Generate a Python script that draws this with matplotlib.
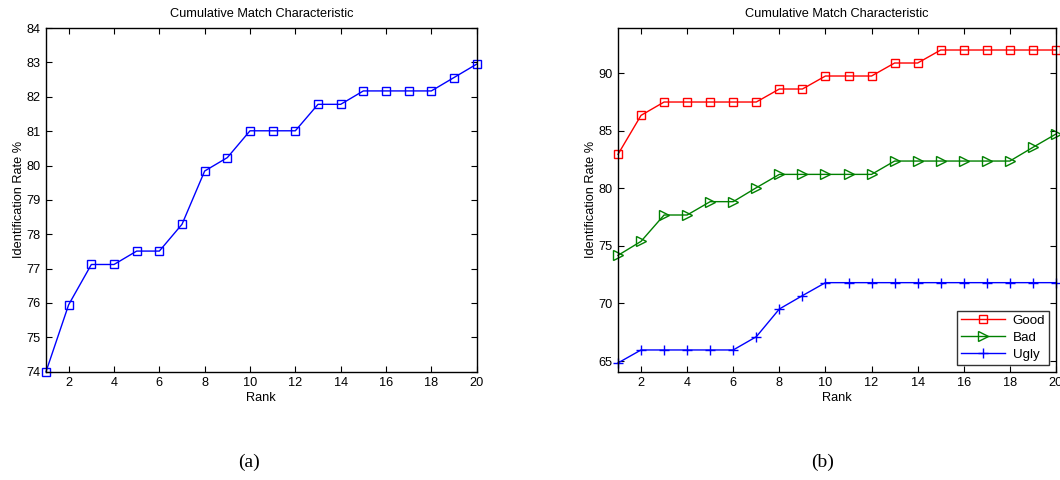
import numpy as np
import matplotlib
matplotlib.use('Agg')
import matplotlib.pyplot as plt

plt.rcParams['font.family'] = ['Liberation Sans', 'DejaVu Sans']

# Data
rank = np.arange(1, 21)
cmc_a = [74.0, 75.95, 77.12, 77.12, 77.51, 77.51, 78.29, 79.84, 80.23, 81.01,
         81.01, 81.01, 81.78, 81.78, 82.17, 82.17, 82.17, 82.17, 82.56, 82.95]
good = [82.96, 86.35, 87.51, 87.51, 87.51, 87.51, 87.51, 88.64, 88.64, 89.77,
        89.77, 89.77, 90.9, 90.9, 92.03, 92.03, 92.03, 92.03, 92.03, 92.03]
bad = [74.18, 75.4, 77.69, 77.69, 78.85, 78.85, 80.06, 81.22, 81.22, 81.22,
       81.22, 81.22, 82.38, 82.38, 82.38, 82.38, 82.38, 82.38, 83.57, 84.73]
ugly = [64.83, 65.96, 65.96, 65.96, 65.96, 65.96, 67.11, 69.52, 70.68, 71.81,
        71.81, 71.81, 71.81, 71.81, 71.81, 71.81, 71.81, 71.81, 71.81, 71.81]
xticks = np.arange(2, 21, 2)

fs = 9.2
fig = plt.figure(figsize=(10.6, 4.8), dpi=100)
ax1 = fig.add_axes([0.0434, 0.2256, 0.4063, 0.716])
ax2 = fig.add_axes([0.583, 0.2256, 0.4132, 0.716])

ax1.plot(rank, cmc_a, color='b', lw=1, marker='s', ms=6, mfc='none', mew=1,
         clip_on=False)
ax1.set_ylim(74, 84)
ax1.set_yticks(np.arange(74, 85, 1))

ax2.plot(rank, good, color='r', lw=1, marker='s', ms=6, mfc='none', mew=1,
         label='Good', clip_on=False)
ax2.plot(rank, bad, color='g', lw=1, marker='>', ms=7, mfc='none', mew=1,
         label='Bad', clip_on=False)
ax2.plot(rank, ugly, color='b', lw=1, marker='+', ms=7, mew=1,
         label='Ugly', clip_on=False)
ax2.set_ylim(64.07, 93.94)
ax2.set_yticks([65, 70, 75, 80, 85, 90])
leg = ax2.legend(loc='lower right', fontsize=9.6, frameon=True, fancybox=False,
                 edgecolor='k', borderpad=0.3, handlelength=3.3,
                 labelspacing=0.35, borderaxespad=0.5, handletextpad=0.6)
leg.get_frame().set_linewidth(1)

for ax in (ax1, ax2):
    ax.set_xlim(1, 20)
    ax.set_xticks(xticks)
    ax.tick_params(direction='in', top=True, right=True, labelsize=fs,
                   length=4, width=0.8, pad=4)
    for s in ax.spines.values():
        s.set_linewidth(1)
    ax.set_title('Cumulative Match Characteristic', fontsize=fs, pad=8)
    ax.set_xlabel('Rank', fontsize=fs, labelpad=2)
    ax.set_ylabel('Identification Rate %', fontsize=fs, labelpad=1)

fig.text(0.235, 0.028, '(a)', family=['Liberation Serif'], fontsize=14,
         ha='center')
fig.text(0.776, 0.028, '(b)', family=['Liberation Serif'], fontsize=14,
         ha='center')

fig.savefig('out.png', dpi=100)
